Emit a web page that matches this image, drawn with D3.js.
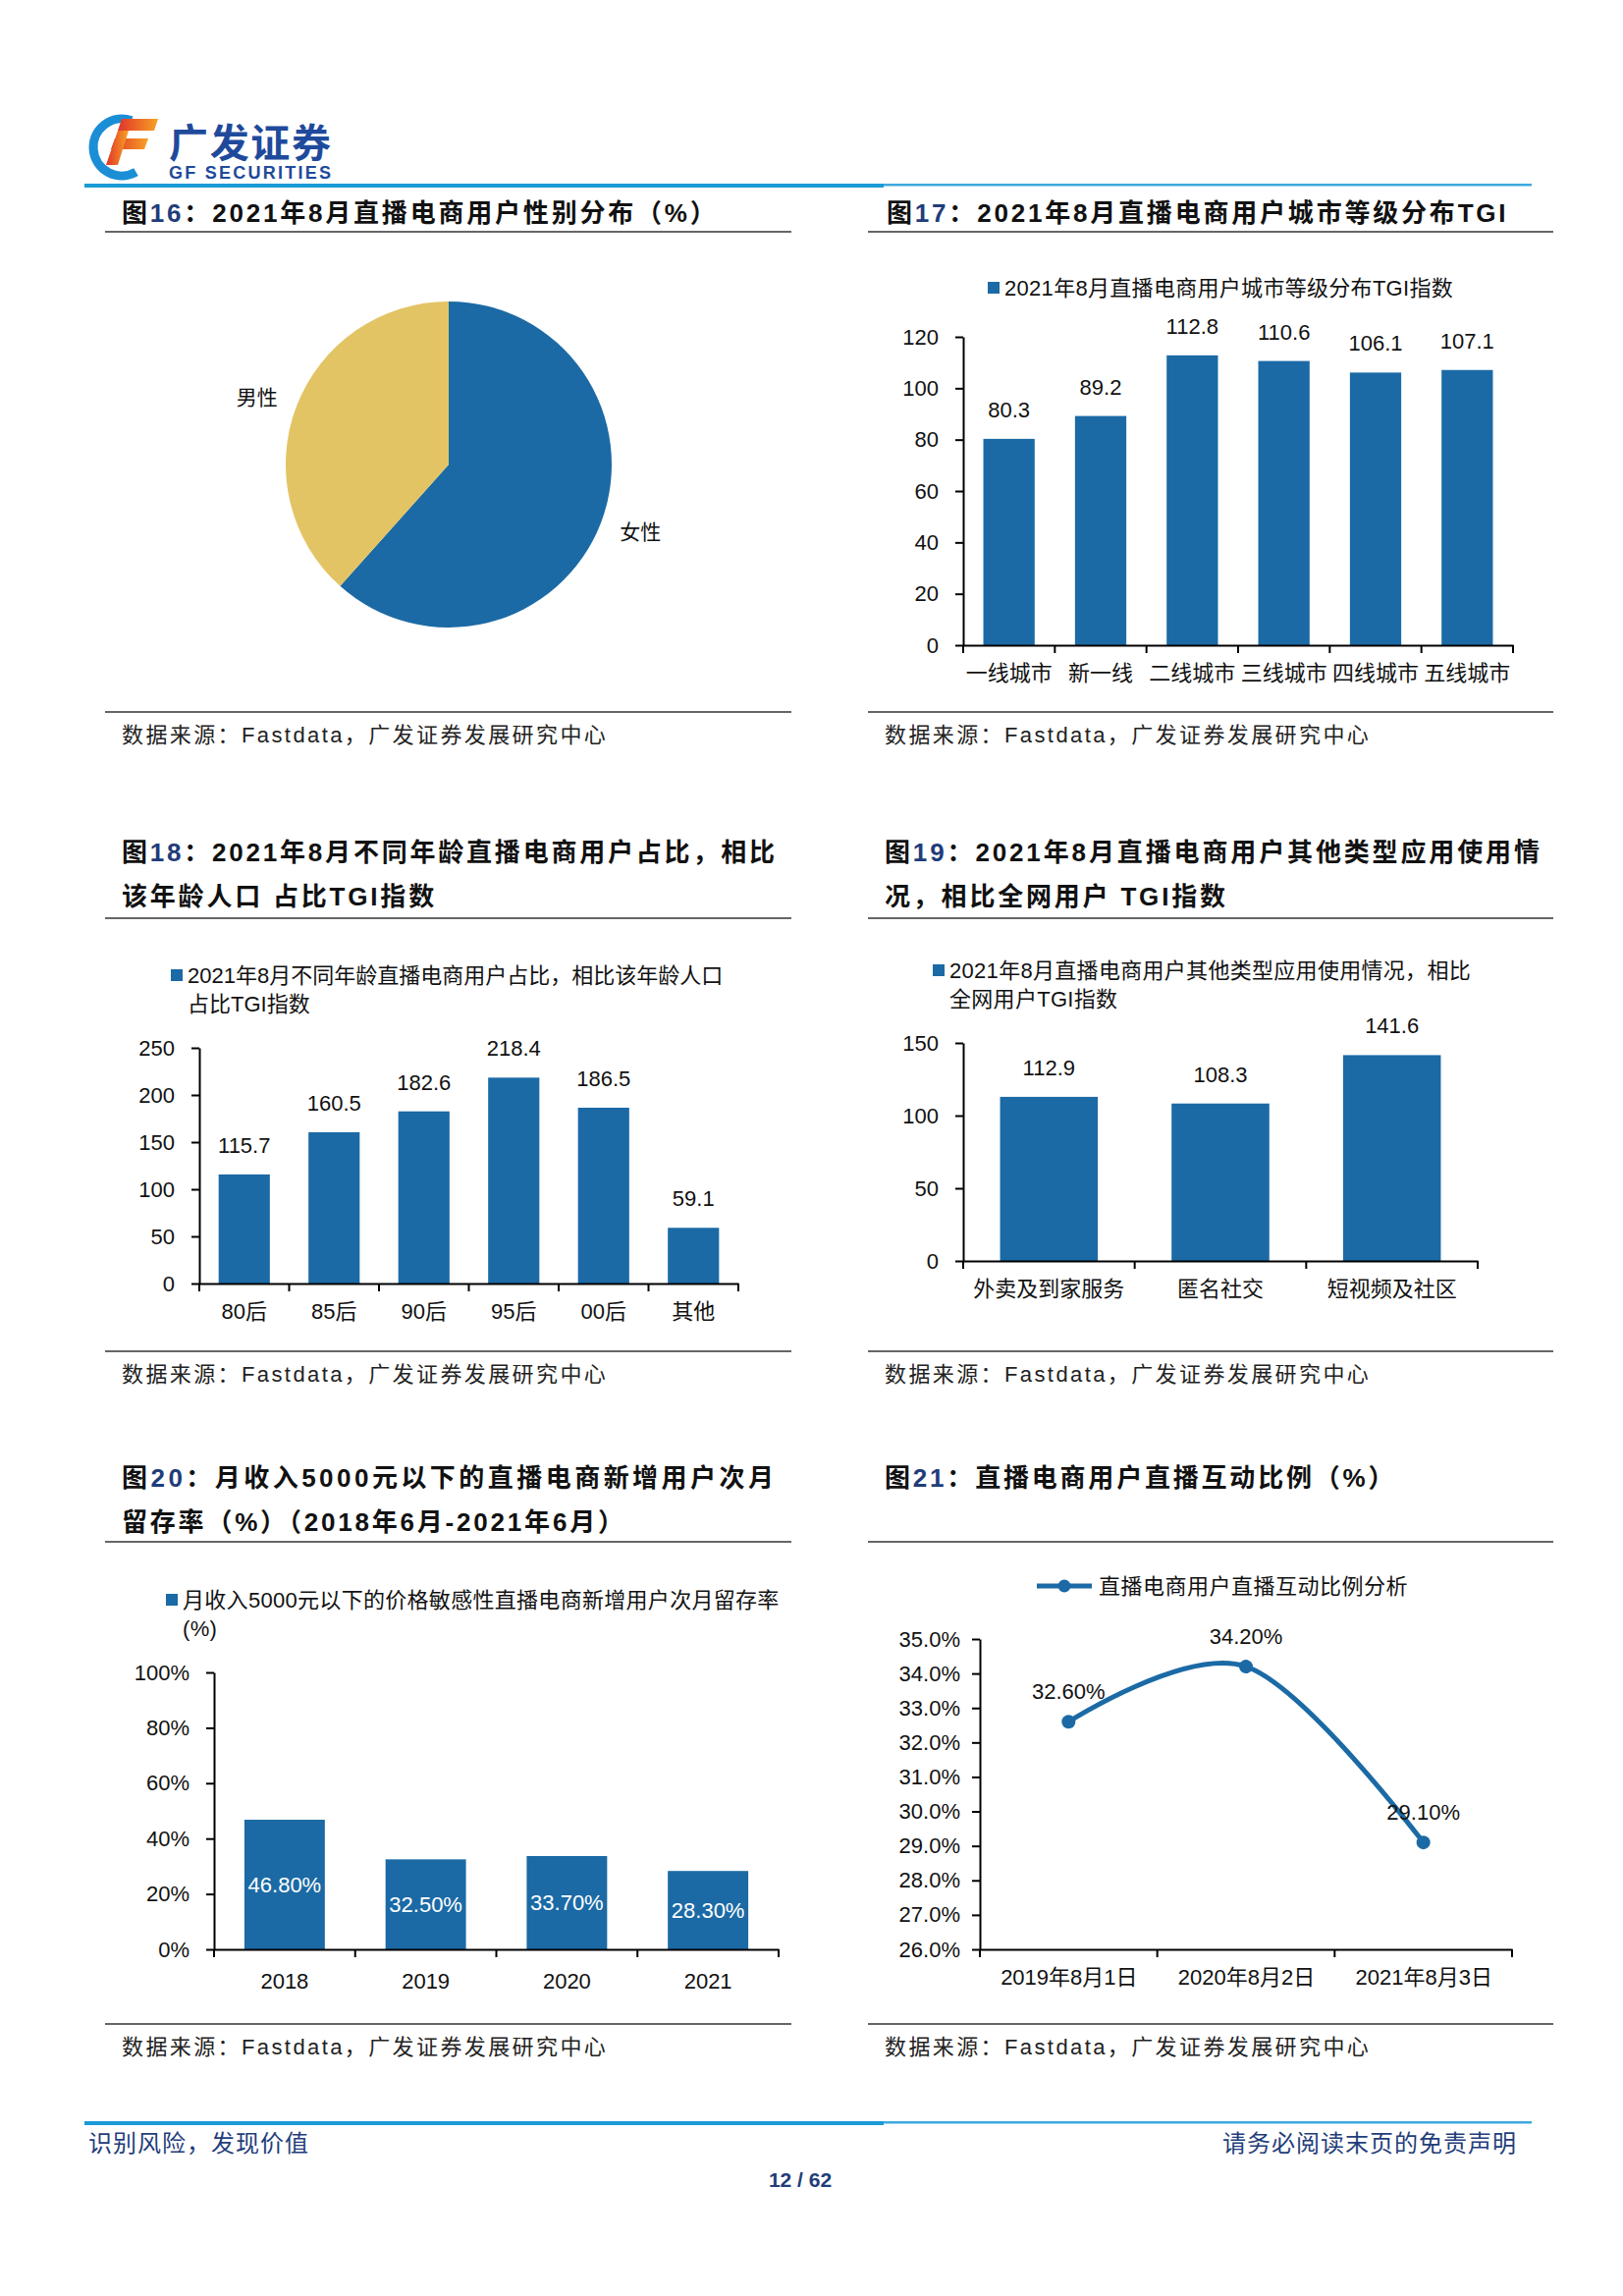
<!DOCTYPE html>
<html>
<head>
<meta charset="utf-8">
<script src="https://cdn.jsdelivr.net/npm/d3@7"></script>
<style>
  body { margin: 0; background: #fff; }
  svg { display: block; }
  text { font-family: "Liberation Sans", "Noto Sans CJK SC", sans-serif; }
</style>
</head>
<body>
<svg id="page" width="1653" height="2338"></svg>
<script>
// ---- data ----
const genderLabels = ['女性', '男性'];
const genderShare = [61.6, 38.4];

const cityTiers = ['一线城市', '新一线', '二线城市', '三线城市', '四线城市', '五线城市'];
const cityTgi = [80.3, 89.2, 112.8, 110.6, 106.1, 107.1];
const cityTicks = [0, 20, 40, 60, 80, 100, 120];

const ageGroups = ['80后', '85后', '90后', '95后', '00后', '其他'];
const ageTgi = [115.7, 160.5, 182.6, 218.4, 186.5, 59.1];
const ageTicks = [0, 50, 100, 150, 200, 250];

const appTypes = ['外卖及到家服务', '匿名社交', '短视频及社区'];
const appTgi = [112.9, 108.3, 141.6];
const appTicks = [0, 50, 100, 150];

const retentionYears = ['2018', '2019', '2020', '2021'];
const retentionRate = [46.8, 32.5, 33.7, 28.3];
const retentionTicks = [0, 20, 40, 60, 80, 100];

const interactDates = ['2019年8月1日', '2020年8月2日', '2021年8月3日'];
const interactRate = [32.6, 34.2, 29.1];
const interactTicks = [26, 27, 28, 29, 30, 31, 32, 33, 34, 35];

const BLUE = '#1b6aa5';
const GOLD = '#e3c464';
const NAVY = '#1f3d7a';
const RULE = '#333';

const svg = d3.select('#page');

// ---- header ----
const grad = svg.append('defs').append('linearGradient')
    .attr('id', 'fgrad').attr('x1', 0).attr('y1', 0).attr('x2', 1).attr('y2', 0);
grad.append('stop').attr('offset', '0%').attr('stop-color', '#e0342a');
grad.append('stop').attr('offset', '100%').attr('stop-color', '#f7a224');

svg.append('path').attr('d', 'M133.9,122.7 A29,29 0 1 0 138.5,175.1')
    .attr('fill', 'none').attr('stroke', '#1b8ed6').attr('stroke-width', 9);
svg.append('path').attr('d', 'M124,121 L161,121 L157,133 L120,133 Z').attr('fill', 'url(#fgrad)');
svg.append('path').attr('d', 'M117,141 L151,141 L147,152 L113,152 Z').attr('fill', 'url(#fgrad)');
svg.append('path').attr('d', 'M120,133 L131,133 L120,168 L108,168 Z').attr('fill', 'url(#fgrad)');

svg.append('text').attr('x', 172).attr('y', 160).attr('font-size', 40).attr('font-weight', 'bold')
    .attr('fill', '#1f4a9c').attr('textLength', 165).attr('font-family', 'Noto Sans CJK SC').text('广发证券');
svg.append('text').attr('x', 172).attr('y', 182).attr('font-size', 18).attr('font-weight', 'bold')
    .attr('fill', '#1f4a9c').attr('textLength', 165).text('GF SECURITIES');

function blueRule(y) {
    svg.append('line').attr('x1', 86).attr('x2', 900).attr('y1', y).attr('y2', y)
        .attr('stroke', '#1a9ad6').attr('stroke-width', 4);
    svg.append('line').attr('x1', 900).attr('x2', 1560).attr('y1', y - 0.7).attr('y2', y - 0.7)
        .attr('stroke', '#3fa9de').attr('stroke-width', 2.5);
}
blueRule(189);
blueRule(2162);

// ---- footer ----
svg.append('text').attr('x', 90).attr('y', 2182).attr('dominant-baseline', 'central')
    .attr('font-size', 24).attr('fill', NAVY).attr('font-family', 'Noto Sans CJK SC').attr('letter-spacing', 1)
    .text('识别风险，发现价值');
svg.append('text').attr('x', 1545).attr('y', 2182).attr('dominant-baseline', 'central').attr('text-anchor', 'end')
    .attr('font-size', 24).attr('fill', NAVY).attr('font-family', 'Noto Sans CJK SC').attr('letter-spacing', 1)
    .text('请务必阅读末页的免责声明');
svg.append('text').attr('x', 815).attr('y', 2219).attr('dominant-baseline', 'central').attr('text-anchor', 'middle')
    .attr('font-size', 21).attr('font-weight', 'bold').attr('fill', NAVY).text('12 / 62');

// ---- titles, rules, source lines ----
function figTitle(x, y, num, lines) {
    lines.forEach((ln, i) => {
        const t = svg.append('text').attr('x', x).attr('y', y + i * 45)
            .attr('dominant-baseline', 'central').attr('font-size', 26).attr('font-weight', 'bold').attr('fill', '#111');
        if (ln.len) t.attr('textLength', ln.len).attr('lengthAdjust', 'spacing');
        else t.attr('letter-spacing', 2.8);
        if (i === 0) {
            t.append('tspan').text('图');
            t.append('tspan').attr('fill', NAVY).text(num);
        }
        t.append('tspan').text(ln.text);
    });
}

function rule(x1, x2, y) {
    svg.append('line').attr('x1', x1).attr('x2', x2).attr('y1', y).attr('y2', y)
        .attr('stroke', RULE).attr('stroke-width', 1.6);
}

function source(x1, x2, y) {
    rule(x1, x2, y);
    svg.append('text').attr('x', x1 + 17).attr('y', y + 23).attr('dominant-baseline', 'central')
        .attr('font-size', 22).attr('letter-spacing', 2.4).attr('fill', '#222')
        .text('数据来源：Fastdata，广发证券发展研究中心');
}

const L = [107, 806], R = [884, 1582];

figTitle(124, 217, '16', [{ text: '：2021年8月直播电商用户性别分布（%）' }]);
figTitle(903, 217, '17', [{ text: '：2021年8月直播电商用户城市等级分布TGI' }]);
rule(L[0], L[1], 236); rule(R[0], R[1], 236);
source(L[0], L[1], 725); source(R[0], R[1], 725);

figTitle(124, 868, '18', [{ text: '：2021年8月不同年龄直播电商用户占比，相比', len: 665 }, { text: '该年龄人口 占比TGI指数' }]);
figTitle(901, 868, '19', [{ text: '：2021年8月直播电商用户其他类型应用使用情', len: 667 }, { text: '况，相比全网用户 TGI指数' }]);
rule(L[0], L[1], 935); rule(R[0], R[1], 935);
source(L[0], L[1], 1376); source(R[0], R[1], 1376);

figTitle(124, 1505, '20', [{ text: '：月收入5000元以下的直播电商新增用户次月', len: 664 }, { text: '留存率（%）（2018年6月-2021年6月）' }]);
figTitle(901, 1505, '21', [{ text: '：直播电商用户直播互动比例（%）' }]);
rule(L[0], L[1], 1570); rule(R[0], R[1], 1570);
source(L[0], L[1], 2061); source(R[0], R[1], 2061);

// ---- legends ----
function squareLegend(x, y, lines, ls) {
    svg.append('rect').attr('x', x).attr('y', y - 6).attr('width', 12).attr('height', 12).attr('fill', BLUE);
    lines.forEach((s, i) => {
        svg.append('text').attr('x', x + 17).attr('y', y + i * 29).attr('dominant-baseline', 'central')
            .attr('font-size', 22).attr('letter-spacing', ls).attr('fill', '#111').text(s);
    });
}

// ---- axes styling ----
function styleAxis(g) {
    g.attr('font-family', null).attr('font-size', 22);
    g.select('.domain').attr('stroke', '#000').attr('stroke-width', 2);
    g.selectAll('.tick line').attr('stroke', '#000').attr('stroke-width', 2);
    g.selectAll('.tick text').attr('fill', '#111');
}

function boundaryTicks(x0, step, n, y) {
    for (let i = 0; i <= n; i++) {
        svg.append('line').attr('x1', x0 + i * step).attr('x2', x0 + i * step)
            .attr('y1', y).attr('y2', y + 8).attr('stroke', '#000').attr('stroke-width', 2);
    }
}

function barChart(o) {
    const g = svg.append('g');
    const x = d3.scaleBand().domain(o.cats).range([o.x0, o.x1])
        .paddingInner(o.pad).paddingOuter(o.pad / 2);
    const y = d3.scaleLinear().domain([0, o.max]).range([o.y0, o.yTop]);

    g.selectAll('rect').data(o.vals).join('rect')
        .attr('x', (d, i) => x(o.cats[i])).attr('width', x.bandwidth())
        .attr('y', d => y(d)).attr('height', d => y(0) - y(d)).attr('fill', BLUE);

    const ya = g.append('g').attr('transform', `translate(${o.x0},0)`)
        .call(d3.axisLeft(y).tickValues(o.ticks).tickSize(8).tickSizeOuter(0)
            .tickPadding(17).tickFormat(o.tickFmt || (d => d)));
    styleAxis(ya);

    const xa = g.append('g').attr('transform', `translate(0,${o.y0})`)
        .call(d3.axisBottom(x).tickSize(0).tickSizeOuter(0).tickPadding(o.xpad || 20));
    styleAxis(xa);
    boundaryTicks(o.x0, x.step(), o.cats.length, o.y0);

    const lab = g.selectAll('text.val').data(o.vals).join('text').attr('class', 'val')
        .attr('x', (d, i) => x(o.cats[i]) + x.bandwidth() / 2)
        .attr('text-anchor', 'middle').attr('font-size', 22).text(o.valFmt || (d => d));
    if (o.inside) {
        lab.attr('y', d => (y(d) + y(0)) / 2).attr('dominant-baseline', 'central').attr('fill', '#fff');
    } else {
        lab.attr('y', d => y(d) - 22).attr('fill', '#111');
    }
}

// ---- fig 16: pie ----
(function () {
    const g = svg.append('g').attr('transform', 'translate(457,473)');
    const pie = d3.pie().sort(null).value(d => d)(genderShare);
    const arc = d3.arc().innerRadius(0).outerRadius(166);
    const labelArc = d3.arc().innerRadius(207).outerRadius(207);
    g.selectAll('path').data(pie).join('path')
        .attr('d', arc).attr('fill', (d, i) => i === 0 ? BLUE : GOLD);
    g.selectAll('text').data(pie).join('text')
        .attr('transform', d => {
            const c = labelArc.centroid(d);
            // labels sit slightly counter-clockwise of the slice middle
            const a = -0.025, cs = Math.cos(a), sn = Math.sin(a);
            return `translate(${c[0] * cs - c[1] * sn},${c[0] * sn + c[1] * cs})`;
        })
        .attr('text-anchor', 'middle').attr('dominant-baseline', 'central')
        .attr('font-size', 21).attr('fill', '#111')
        .text((d, i) => genderLabels[i]);
})();

// ---- fig 17 ----
squareLegend(1006, 293, ['2021年8月直播电商用户城市等级分布TGI指数'], 0.3);
barChart({ cats: cityTiers, vals: cityTgi, ticks: cityTicks, max: 120,
    x0: 981, x1: 1541, y0: 657, yTop: 343, pad: 0.44 });

// ---- fig 18 ----
squareLegend(174, 993, ['2021年8月不同年龄直播电商用户占比，相比该年龄人口', '占比TGI指数'], 0);
barChart({ cats: ageGroups, vals: ageTgi, ticks: ageTicks, max: 250,
    x0: 203, x1: 752, y0: 1307, yTop: 1067, pad: 0.43 });

// ---- fig 19 ----
squareLegend(950, 988, ['2021年8月直播电商用户其他类型应用使用情况，相比', '全网用户TGI指数'], 0.3);
barChart({ cats: appTypes, vals: appTgi, ticks: appTicks, max: 150,
    x0: 981, x1: 1505, y0: 1284, yTop: 1062, pad: 0.43 });

// ---- fig 20 ----
squareLegend(169, 1629, ['月收入5000元以下的价格敏感性直播电商新增用户次月留存率', '(%)'], 0.3);
barChart({ cats: retentionYears, vals: retentionRate, ticks: retentionTicks, max: 100,
    x0: 218, x1: 793, y0: 1985, yTop: 1703, pad: 0.43, inside: true, xpad: 24,
    tickFmt: d => d + '%', valFmt: d => d.toFixed(2) + '%' });

// ---- fig 21: smoothed line ----
(function () {
    const x0 = 998, x1 = 1540, y0 = 1985, yTop = 1669;
    const x = d3.scalePoint().domain(interactDates).range([x0, x1]).padding(0.5);
    const y = d3.scaleLinear().domain([26, 35]).range([y0, yTop]);
    const g = svg.append('g');

    const ya = g.append('g').attr('transform', `translate(${x0},0)`)
        .call(d3.axisLeft(y).tickValues(interactTicks).tickSize(8).tickSizeOuter(0)
            .tickPadding(12).tickFormat(d => d.toFixed(1) + '%'));
    styleAxis(ya);
    const xa = g.append('g').attr('transform', `translate(0,${y0})`)
        .call(d3.axisBottom(x).tickSize(0).tickSizeOuter(0).tickPadding(20));
    styleAxis(xa);
    boundaryTicks(x0, x.step(), interactDates.length, y0);

    const line = d3.line().x((d, i) => x(interactDates[i])).y(d => y(d))
        .curve(d3.curveCardinal.tension(0));
    g.append('path').datum(interactRate).attr('d', line)
        .attr('fill', 'none').attr('stroke', BLUE).attr('stroke-width', 5);
    g.selectAll('circle').data(interactRate).join('circle')
        .attr('cx', (d, i) => x(interactDates[i])).attr('cy', d => y(d)).attr('r', 7).attr('fill', BLUE);
    g.selectAll('text.val').data(interactRate).join('text').attr('class', 'val')
        .attr('x', (d, i) => x(interactDates[i])).attr('y', d => y(d) - 23)
        .attr('text-anchor', 'middle').attr('font-size', 22).attr('fill', '#111')
        .text(d => d.toFixed(2) + '%');

    // legend
    svg.append('line').attr('x1', 1056).attr('x2', 1112).attr('y1', 1615).attr('y2', 1615)
        .attr('stroke', BLUE).attr('stroke-width', 5);
    svg.append('circle').attr('cx', 1084).attr('cy', 1615).attr('r', 6.5).attr('fill', BLUE);
    svg.append('text').attr('x', 1119).attr('y', 1615).attr('dominant-baseline', 'central')
        .attr('font-size', 22).attr('letter-spacing', 0.5).attr('fill', '#111').text('直播电商用户直播互动比例分析');
})();
</script>
</body>
</html>
